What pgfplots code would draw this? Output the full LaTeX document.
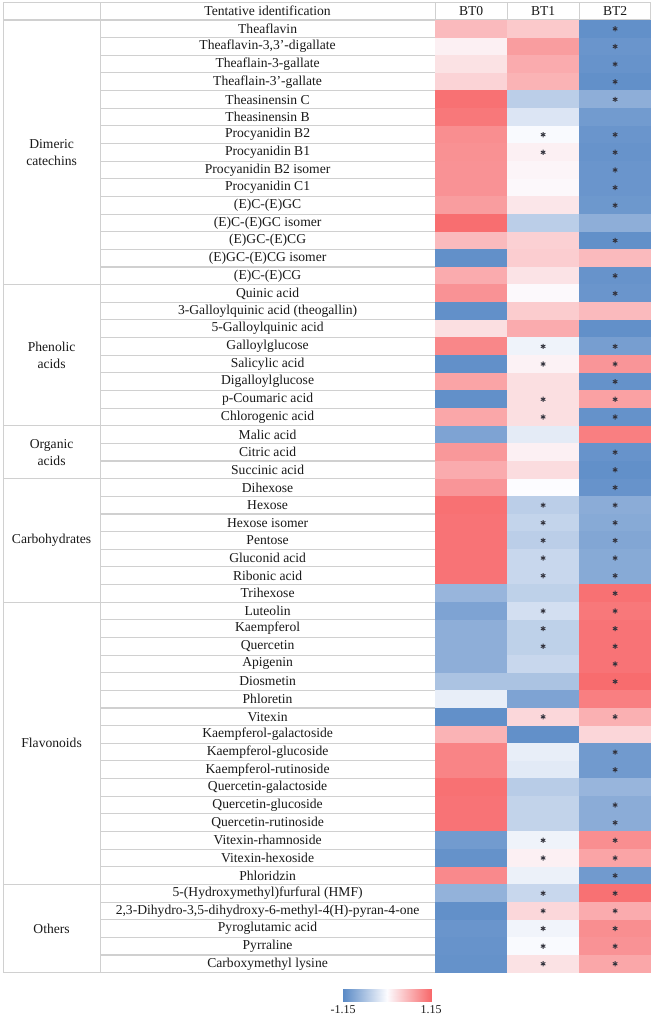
\documentclass[border=0pt]{standalone}
\usepackage{fontspec}
\setmainfont{Liberation Serif}
\usepackage{pgfplots}
\usepackage{pgfplotstable}
\pgfplotsset{compat=1.18}

\definecolor{gridgray}{RGB}{208,208,208}
\definecolor{stargray}{RGB}{50,50,60}
\definecolor{txt}{RGB}{25,25,25}

% one heat cell: 72 x 17.64 (1 px = 1 pt)
\pgfdeclareplotmark{cell}{%
  \pgfpathrectangle{\pgfpoint{-36.3pt}{-8.95pt}}{\pgfpoint{72.6pt}{17.9pt}}%
  \pgfusepathqfill}

\pgfplotsset{
  bwr/.style={
    colormap={bwr}{rgb255=(90,138,198) rgb255=(252,252,255) rgb255=(248,105,107)},
    point meta min=-1, point meta max=1},
}

% values on a -1 (blue) ... 1 (red) scale; s1, s2 = significance marks in BT1, BT2
\pgfplotstableread[col sep=semicolon]{
name;b0;b1;b2;s1;s2
Theaflavin;0.45;0.35;-0.95;0;1
Theaflavin-3,3'-digallate;0.08;0.65;-0.9;0;1
Theaflain-3-gallate;0.18;0.55;-0.92;0;1
Theaflain-3'-gallate;0.28;0.5;-0.95;0;1
Theasinensin C;0.95;-0.4;-0.68;0;1
Theasinensin B;0.9;-0.2;-0.85;0;0
Procyanidin B2;0.75;-0.02;-0.9;1;1
Procyanidin B1;0.73;0.08;-0.92;1;1
Procyanidin B2 isomer;0.72;0.05;-0.9;0;1
Procyanidin C1;0.72;0.03;-0.9;0;1
(E)C-(E)GC;0.65;0.15;-0.88;0;1
(E)C-(E)GC isomer;0.97;-0.4;-0.68;0;0
(E)GC-(E)CG;0.45;0.3;-0.95;0;1
(E)GC-(E)CG isomer;-0.95;0.32;0.45;0;0
(E)C-(E)CG;0.55;0.17;-0.92;0;1
Quinic acid;0.72;0.02;-0.9;0;1
3-Galloylquinic acid (theogallin);-0.95;0.33;0.45;0;0
5-Galloylquinic acid;0.2;0.55;-0.95;0;0
Galloylglucose;0.8;-0.08;-0.82;1;1
Salicylic acid;-0.95;0.07;0.7;1;1
Digalloylglucose;0.6;0.2;-0.93;0;1
p-Coumaric acid;-0.95;0.2;0.62;1;1
Chlorogenic acid;0.58;0.2;-0.93;1;1
Malic acid;-0.78;-0.15;0.85;0;0
Citric acid;0.68;0.08;-0.92;0;1
Succinic acid;0.55;0.22;-0.95;0;1
Dihexose;0.7;0.0;-0.92;0;1
Hexose;0.95;-0.4;-0.7;1;1
Hexose isomer;0.93;-0.35;-0.72;1;1
Pentose;0.93;-0.4;-0.75;1;1
Gluconid acid;0.93;-0.32;-0.72;1;1
Ribonic acid;0.93;-0.32;-0.72;1;1
Trihexose;-0.62;-0.38;0.95;0;1
Luteolin;-0.78;-0.25;0.9;1;1
Kaempferol;-0.68;-0.38;0.93;1;1
Quercetin;-0.68;-0.38;0.93;1;1
Apigenin;-0.68;-0.32;0.93;0;1
Diosmetin;-0.5;-0.5;0.98;0;1
Phloretin;-0.12;-0.78;0.85;0;0
Vitexin;-0.95;0.25;0.52;1;1
Kaempferol-galactoside;0.5;-0.95;0.26;0;0
Kaempferol-glucoside;0.82;-0.12;-0.86;0;1
Kaempferol-rutinoside;0.82;-0.16;-0.86;0;1
Quercetin-galactoside;0.95;-0.42;-0.62;0;0
Quercetin-glucoside;0.93;-0.36;-0.7;0;1
Quercetin-rutinoside;0.93;-0.36;-0.7;0;1
Vitexin-rhamnoside;-0.85;-0.08;0.75;1;1
Vitexin-hexoside;-0.93;0.08;0.6;1;1
Phloridzin;0.78;-0.1;-0.86;0;1
5-(Hydroxymethyl)furfural (HMF);-0.65;-0.32;0.95;1;1
2,3-Dihydro-3,5-dihydroxy-6-methyl-4(H)-pyran-4-one;-0.95;0.25;0.55;1;1
Pyroglutamic acid;-0.9;-0.07;0.75;1;1
Pyrraline;-0.92;-0.02;0.72;1;1
Carboxymethyl lysine;-0.93;0.18;0.58;1;1
}\data

\begin{document}
\begin{tikzpicture}
\begin{axis}[
  bwr,
  at={(0pt,0pt)}, anchor=south west,
  scale only axis,
  width=652pt, height=1019pt,
  xmin=0, xmax=652, ymin=-0.634, ymax=57.13,
  y dir=reverse,
  clip=false,
  axis line style={draw=none},
  major tick length=0pt,
  xtick=\empty,
  ytick={1,...,54},
  yticklabels from table={\data}{name},
  yticklabel style={anchor=center, xshift=267.5pt, text=txt,
    font=\fontsize{13.6}{16}\selectfont},
]
% table rules
\draw[gridgray, line width=1.1pt] (axis cs:3,-0.5) -- (axis cs:650,-0.5);
\draw[gridgray, line width=1.1pt] (axis cs:3,0.5) -- (axis cs:650,0.5);
\pgfplotsinvokeforeach{1.5,2.5,...,53.5}{
  \draw[gridgray, line width=1.1pt] (axis cs:100,#1) -- (axis cs:435,#1);
}
\pgfplotsinvokeforeach{15.5,23.5,26.5,33.5,49.5,54.5}{
  \draw[gridgray, line width=1.1pt] (axis cs:3,#1) -- (axis cs:435,#1);
}
\pgfplotsinvokeforeach{3,100,435}{
  \draw[gridgray, line width=1.1pt] (axis cs:#1,-0.5) -- (axis cs:#1,54.5);
}
\pgfplotsinvokeforeach{507,579,650}{
  \draw[gridgray, line width=1.1pt] (axis cs:#1,-0.5) -- (axis cs:#1,0.5);
}

% heat cells
\addplot[scatter, only marks, mark=cell, point meta=explicit]
  table[x expr=471, y expr=\coordindex+1, meta=b0]{\data};
\addplot[scatter, only marks, mark=cell, point meta=explicit]
  table[x expr=543, y expr=\coordindex+1, meta=b1]{\data};
\addplot[scatter, only marks, mark=cell, point meta=explicit]
  table[x expr=615, y expr=\coordindex+1, meta=b2]{\data};

% significance marks
\addplot[only marks, mark=asterisk, mark size=2.6pt, stargray, line width=0.9pt,
  restrict expr to domain={\thisrow{s1}}{0.5:1.5}]
  table[x expr=543, y expr=\coordindex+1]{\data};
\addplot[only marks, mark=asterisk, mark size=2.6pt, stargray, line width=0.9pt,
  restrict expr to domain={\thisrow{s2}}{0.5:1.5}]
  table[x expr=615, y expr=\coordindex+1]{\data};

% header and group labels
\begin{scope}[every node/.style={text=txt, font=\fontsize{13.6}{17}\selectfont, align=center}]
\node at (axis cs:267.5,0) {Tentative identification};
\node at (axis cs:471,0) {BT0};
\node at (axis cs:543,0) {BT1};
\node at (axis cs:615,0) {BT2};
\node at (axis cs:51.5,8) {Dimeric\\catechins};
\node at (axis cs:51.5,19.5) {Phenolic\\acids};
\node at (axis cs:51.5,25) {Organic\\acids};
\node at (axis cs:51.5,30) {Carbohydrates};
\node at (axis cs:51.5,41.5) {Flavonoids};
\node at (axis cs:51.5,52) {Others};
\end{scope}
\end{axis}

% colour scale
\begin{axis}[
  bwr,
  at={(343pt,17pt)}, anchor=south west,
  scale only axis, width=88pt, height=13pt,
  xmin=-1, xmax=1, ymin=0, ymax=1,
  axis line style={draw=none},
  major tick length=0pt,
  xtick={-1,1}, xticklabels={-1.15,1.15},
  ytick=\empty,
  xticklabel style={font=\fontsize{12}{14}\selectfont, text=txt},
]
\addplot[surf, shader=interp, point meta=x, mesh/rows=2]
  coordinates {(-1,0) (1,0) (-1,1) (1,1)};
\end{axis}
\end{tikzpicture}
\end{document}
